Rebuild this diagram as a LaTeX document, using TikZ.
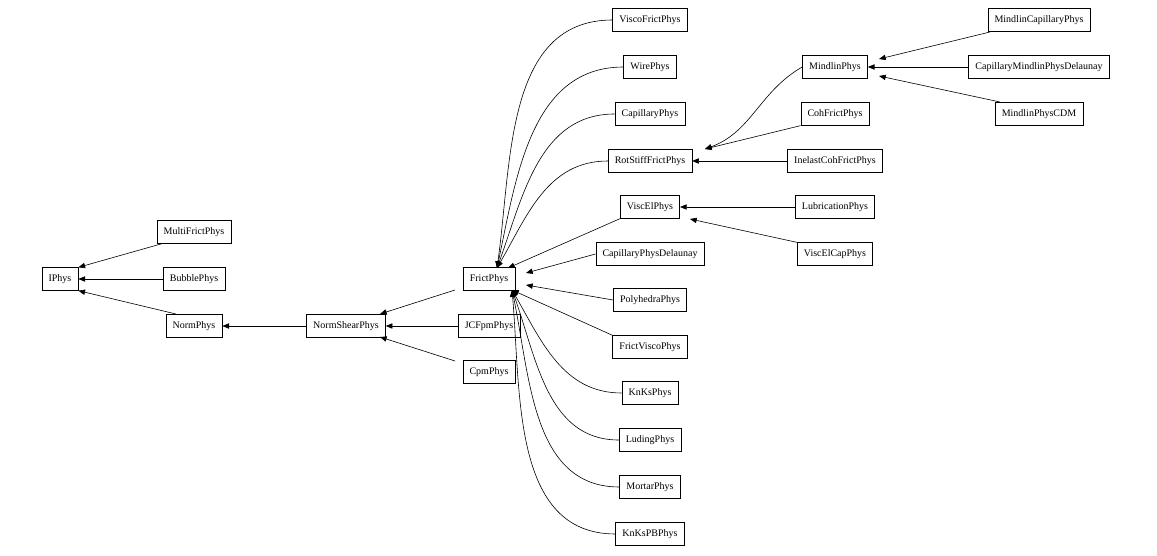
\documentclass[tikz,border=0pt]{standalone}
\usepackage{fontspec}
\setmainfont{Liberation Serif}
\usetikzlibrary{arrows.meta}
\begin{document}
\begin{tikzpicture}[x=0.75pt,y=-0.75pt,
 n/.style={draw,line width=0.5pt,minimum height=17pt,inner xsep=5pt,font=\fontsize{7.5}{9}\selectfont},
 e/.style={line width=0.45pt,{Triangle[length=5pt,width=4pt]}-}]
\useasboundingbox (0,0) rectangle (1157,556);
\node[n] (IPhys) at (60,279) {IPhys};
\node[n] (Multi) at (194,232) {MultiFrictPhys};
\node[n] (Bubble) at (194,279) {BubblePhys};
\node[n] (Norm) at (194,326) {NormPhys};
\node[n] (NS) at (346,326) {NormShearPhys};
\node[n] (JCF) at (489,326) {JCFpmPhys};
\node[n] (Cpm) at (489,372) {CpmPhys};
\node[n] (Frict) at (489,279) {FrictPhys};
\node[n] (VF) at (650,20) {ViscoFrictPhys};
\node[n] (Wire) at (650,67) {WirePhys};
\node[n] (Cap) at (650,114) {CapillaryPhys};
\node[n] (RS) at (650,161) {RotStiffFrictPhys};
\node[n] (VE) at (650,207) {ViscElPhys};
\node[n] (CPD) at (650,254) {CapillaryPhysDelaunay};
\node[n] (Poly) at (650,300) {PolyhedraPhys};
\node[n] (FV) at (650,347) {FrictViscoPhys};
\node[n] (KnKs) at (650,393) {KnKsPhys};
\node[n] (Lud) at (650,440) {LudingPhys};
\node[n] (Mort) at (650,487) {MortarPhys};
\node[n] (KPB) at (650,534) {KnKsPBPhys};
\node[n] (Mind) at (835,67) {MindlinPhys};
\node[n] (Coh) at (835,114) {CohFrictPhys};
\node[n] (Inel) at (835,161) {InelastCohFrictPhys};
\node[n] (Lub) at (835,207) {LubricationPhys};
\node[n] (VEC) at (835,254) {ViscElCapPhys};
\node[n] (MCap) at (1039,20) {MindlinCapillaryPhys};
\node[n] (CMD) at (1039,67) {CapillaryMindlinPhysDelaunay};
\node[n] (CDM) at (1039,114) {MindlinPhysCDM};
\coordinate (ft) at (497,268);
\coordinate (fb) at (512,290);
\draw[e] (IPhys.north east) -- (Multi.south west -| 162,0 |- Multi.south);
\draw[e] (IPhys) -- (Bubble);
\draw[e] (IPhys.south east) -- (176,314);
\draw[e] (Norm) -- (NS);
\draw[e] (NS) -- (JCF);
\draw[e] (380,314) -- (455,290);
\draw[e] (380,337) -- (455,361);
\draw[e] (ft) to[out=82,in=180] (VF.west);
\draw[e] (ft) to[out=78,in=180] (Wire.west);
\draw[e] (ft) to[out=70,in=180] (Cap.west);
\draw[e] (ft) to[out=60,in=180] (RS.west);
\draw[e] (508,268) -- (VE.south west);
\draw[e] (526,273) -- (CPD.west);
\draw[e] (526,285) -- (Poly.west);
\draw[e] (fb) -- (FV.north west);
\draw[e] (fb) to[out=-60,in=180] (KnKs.west);
\draw[e] (fb) to[out=-70,in=180] (Lud.west);
\draw[e] (fb) to[out=-78,in=180] (Mort.west);
\draw[e] (fb) to[out=-85,in=180] (KPB.west);
\draw[e] (705,149) to[out=20,in=210] (Mind.west);
\draw[e] (705,149) -- (Coh.south west);
\draw[e] (RS) -- (Inel);
\draw[e] (VE) -- (Lub);
\draw[e] (690,219) -- (VEC.north west);
\draw[e] (879,59) -- (990,32);
\draw[e] (Mind) -- (CMD);
\draw[e] (879,76) -- (1000,102);
\end{tikzpicture}
\end{document}
